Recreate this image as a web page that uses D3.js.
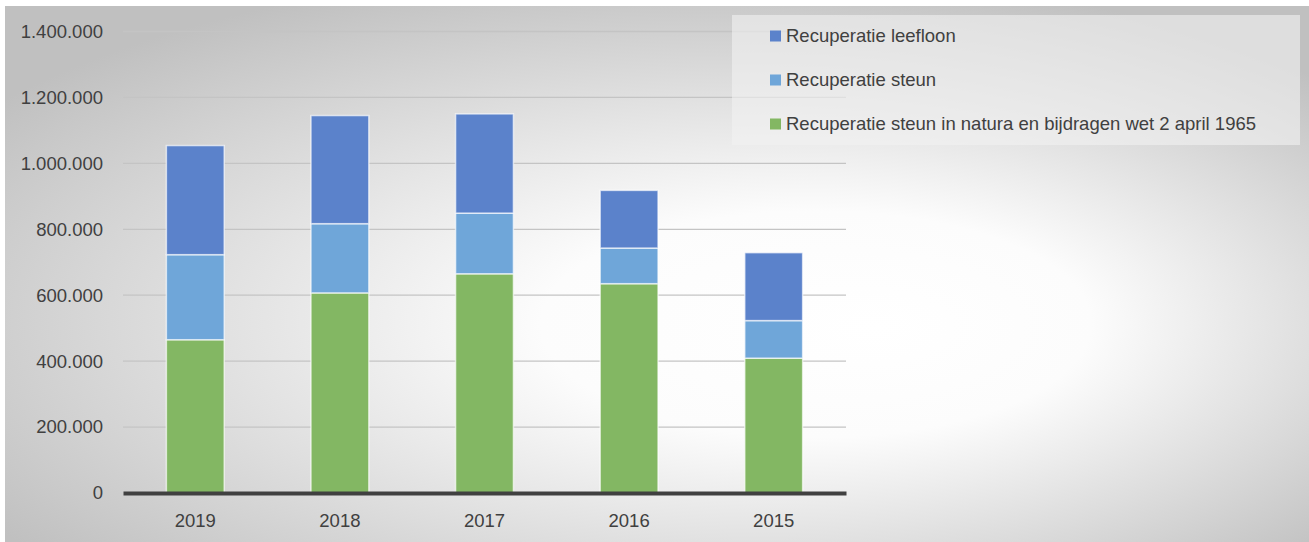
<!DOCTYPE html>
<html>
<head>
<meta charset="utf-8">
<script src="https://cdn.jsdelivr.net/npm/d3@7"></script>
<style>
    body { margin: 0; background: #ffffff; }
    text { font-family: "Liberation Sans", Arial, sans-serif; fill: #404040; }
</style>
</head>
<body>
<script>
// data
let years = ['2019', '2018', '2017', '2016', '2015'];
let natura = [465000, 607000, 665000, 635000, 409000];
let steun = [258000, 210000, 184000, 108000, 114000];
let leefloon = [331000, 328000, 301000, 175000, 206000];
let seriesNames = ['Recuperatie steun in natura en bijdragen wet 2 april 1965', 'Recuperatie steun', 'Recuperatie leefloon'];
let yTicks = [0, 200000, 400000, 600000, 800000, 1000000, 1200000, 1400000];

let colors = ['#83b763', '#6fa6d9', '#5b82cb'];

let width = 1309;
let height = 542;

let svg = d3.select('body').append('svg')
    .attr('width', width)
    .attr('height', height);

// background with the radial gradient
let defs = svg.append('defs');
let grad = defs.append('radialGradient')
    .attr('id', 'bg')
    .attr('cx', 0.52).attr('cy', 0.58).attr('r', 0.66)
    .attr('fx', 0.67).attr('fy', 0.6);
grad.append('stop').attr('offset', 0).attr('stop-color', '#ffffff');
grad.append('stop').attr('offset', 0.32).attr('stop-color', '#fcfcfc');
grad.append('stop').attr('offset', 1).attr('stop-color', '#c0c0c0');

svg.append('rect')
    .attr('x', 5).attr('y', 6)
    .attr('width', width - 5).attr('height', height - 6)
    .style('fill', 'url(#bg)');

let xScale = d3.scaleBand()
    .domain(years)
    .range([123, 846])
    .paddingInner(0.6)
    .paddingOuter(0.3);

let yScale = d3.scaleLinear()
    .domain([0, 1400000])
    .range([493, 31.5]);

let fmt = d => d3.format(',')(d).replace(/,/g, '.');

// grid lines
svg.append('g')
    .selectAll('line')
    .data(yTicks.slice(1))
    .join('line')
    .attr('x1', 123).attr('x2', 846)
    .attr('y1', d => yScale(d)).attr('y2', d => yScale(d))
    .style('stroke', '#c4c4c4')
    .attr('stroke-width', 1.3);

// y axis labels
let yAxis = d3.axisLeft(yScale).tickValues(yTicks).tickFormat(fmt).tickSize(0).tickPadding(20);
let yg = svg.append('g')
    .attr('transform', 'translate(123,0)')
    .call(yAxis);
yg.select('.domain').remove();
yg.selectAll('text').style('font-size', '18.5px').style('fill', '#404040');

// stacked bars
let rows = years.map((y, i) => ({ year: y, natura: natura[i], steun: steun[i], leefloon: leefloon[i] }));
let stack = d3.stack().keys(['natura', 'steun', 'leefloon'])(rows);

svg.append('g')
    .selectAll('g')
    .data(stack)
    .join('g')
    .style('fill', (d, i) => colors[i])
    .selectAll('rect')
    .data(d => d)
    .join('rect')
    .attr('x', d => xScale(d.data.year))
    .attr('width', xScale.bandwidth())
    .attr('y', d => yScale(d[1]))
    .attr('height', d => yScale(d[0]) - yScale(d[1]))
    .style('stroke', 'rgba(255,255,255,0.65)')
    .attr('stroke-width', 1.5);

// x axis
let xAxis = d3.axisBottom(xScale).tickSize(0).tickPadding(21);
let xg = svg.append('g')
    .attr('transform', 'translate(0,493)')
    .call(xAxis);
xg.select('.domain')
    .style('stroke', '#404040')
    .attr('stroke-width', 4);
xg.selectAll('text').style('font-size', '18.5px').style('fill', '#404040');

// legend
svg.append('rect')
    .attr('x', 732).attr('y', 15)
    .attr('width', 568).attr('height', 130)
    .style('fill', '#f2f2f2')
    .style('opacity', 0.6);

let legendOrder = [2, 1, 0];
let legend = svg.append('g')
    .selectAll('g')
    .data(legendOrder)
    .join('g')
    .attr('transform', (d, i) => 'translate(770,' + (36 + i * 44) + ')');

legend.append('rect')
    .attr('x', 0).attr('y', -5.5)
    .attr('width', 11).attr('height', 11)
    .style('fill', d => colors[d]);

legend.append('text')
    .attr('x', 16)
    .attr('dy', '0.35em')
    .style('font-size', '18.5px')
    .text(d => seriesNames[d]);
</script>
</body>
</html>
